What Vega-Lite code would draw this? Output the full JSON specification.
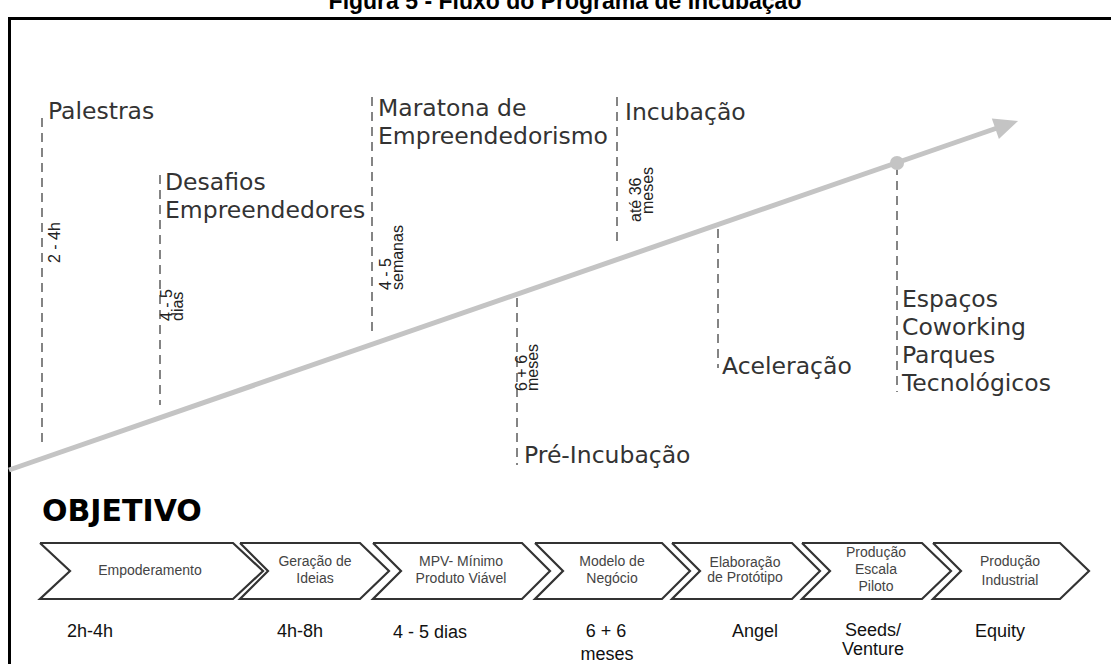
{
  "$schema": "https://vega.github.io/schema/vega-lite/v6.json",
  "width": 1111,
  "height": 664,
  "autosize": {"type": "none"},
  "padding": 0,
  "background": "white",
  "config": {"view": {"stroke": null}},
  "datasets": {
    "frame": [
      {"x": 9.5, "y": 17, "x2": 9.5, "y2": 664},
      {"x": 8, "y": 18.5, "x2": 1111, "y2": 18.5}
    ],
    "trend": [{"x": 9, "y": 470, "x2": 1000, "y2": 127}],
    "head": [{"x": 1006.7, "y": 124.9}],
    "dot": [{"x": 897, "y": 163}],
    "stems": [
      {"x": 42, "y": 118, "y2": 448},
      {"x": 160, "y": 175, "y2": 405},
      {"x": 372, "y": 97, "y2": 337},
      {"x": 617, "y": 97, "y2": 247},
      {"x": 517, "y": 298, "y2": 465},
      {"x": 718, "y": 229, "y2": 368},
      {"x": 897, "y": 166, "y2": 392}
    ],
    "labels": [
      {"x": 48, "y": 119, "t": "Palestras"},
      {"x": 165, "y": 190, "t": "Desafios"},
      {"x": 165, "y": 218, "t": "Empreendedores"},
      {"x": 378, "y": 116, "t": "Maratona de"},
      {"x": 378, "y": 144, "t": "Empreendedorismo"},
      {"x": 625, "y": 120, "t": "Incubação"},
      {"x": 524, "y": 463, "t": "Pré-Incubação"},
      {"x": 722, "y": 374, "t": "Aceleração"},
      {"x": 902, "y": 307, "t": "Espaços"},
      {"x": 902, "y": 335, "t": "Coworking"},
      {"x": 902, "y": 363, "t": "Parques"},
      {"x": 902, "y": 391, "t": "Tecnológicos"}
    ],
    "durations": [
      {"x": 55, "y": 263, "t": "2 - 4h"},
      {"x": 167, "y": 321, "t": "4 - 5"},
      {"x": 178, "y": 321, "t": "dias"},
      {"x": 386, "y": 290, "t": "4 - 5"},
      {"x": 398, "y": 290, "t": "semanas"},
      {"x": 636, "y": 222, "t": "até 36"},
      {"x": 648, "y": 214, "t": "meses"},
      {"x": 522, "y": 391, "t": "6 + 6"},
      {"x": 533, "y": 391, "t": "meses"}
    ],
    "title": [{"x": 565, "y": 9, "t": "Figura 5 - Fluxo do Programa de Incubação"}],
    "heading": [{"x": 42, "y": 521, "t": "OBJETIVO"}],
    "chevrons": [
      {"c": 1, "o": 1, "x": 40, "y": 543}, {"c": 1, "o": 2, "x": 233, "y": 543}, {"c": 1, "o": 3, "x": 263, "y": 571}, {"c": 1, "o": 4, "x": 233, "y": 599}, {"c": 1, "o": 5, "x": 40, "y": 599}, {"c": 1, "o": 6, "x": 70, "y": 571}, {"c": 1, "o": 7, "x": 40, "y": 543},
      {"c": 2, "o": 1, "x": 240, "y": 543}, {"c": 2, "o": 2, "x": 360, "y": 543}, {"c": 2, "o": 3, "x": 389, "y": 571}, {"c": 2, "o": 4, "x": 360, "y": 599}, {"c": 2, "o": 5, "x": 240, "y": 599}, {"c": 2, "o": 6, "x": 268, "y": 571}, {"c": 2, "o": 7, "x": 240, "y": 543},
      {"c": 3, "o": 1, "x": 373, "y": 543}, {"c": 3, "o": 2, "x": 522, "y": 543}, {"c": 3, "o": 3, "x": 550, "y": 571}, {"c": 3, "o": 4, "x": 522, "y": 599}, {"c": 3, "o": 5, "x": 373, "y": 599}, {"c": 3, "o": 6, "x": 401, "y": 571}, {"c": 3, "o": 7, "x": 373, "y": 543},
      {"c": 4, "o": 1, "x": 535, "y": 543}, {"c": 4, "o": 2, "x": 662, "y": 543}, {"c": 4, "o": 3, "x": 690, "y": 571}, {"c": 4, "o": 4, "x": 662, "y": 599}, {"c": 4, "o": 5, "x": 535, "y": 599}, {"c": 4, "o": 6, "x": 563, "y": 571}, {"c": 4, "o": 7, "x": 535, "y": 543},
      {"c": 5, "o": 1, "x": 672, "y": 543}, {"c": 5, "o": 2, "x": 792, "y": 543}, {"c": 5, "o": 3, "x": 820, "y": 571}, {"c": 5, "o": 4, "x": 792, "y": 599}, {"c": 5, "o": 5, "x": 672, "y": 599}, {"c": 5, "o": 6, "x": 700, "y": 571}, {"c": 5, "o": 7, "x": 672, "y": 543},
      {"c": 6, "o": 1, "x": 802, "y": 543}, {"c": 6, "o": 2, "x": 922, "y": 543}, {"c": 6, "o": 3, "x": 951, "y": 571}, {"c": 6, "o": 4, "x": 922, "y": 599}, {"c": 6, "o": 5, "x": 802, "y": 599}, {"c": 6, "o": 6, "x": 830, "y": 571}, {"c": 6, "o": 7, "x": 802, "y": 543},
      {"c": 7, "o": 1, "x": 933, "y": 543}, {"c": 7, "o": 2, "x": 1060, "y": 543}, {"c": 7, "o": 3, "x": 1089, "y": 571}, {"c": 7, "o": 4, "x": 1060, "y": 599}, {"c": 7, "o": 5, "x": 933, "y": 599}, {"c": 7, "o": 6, "x": 961, "y": 571}, {"c": 7, "o": 7, "x": 933, "y": 543}
    ],
    "chevtext": [
      {"x": 150, "y": 571, "t": "Empoderamento"},
      {"x": 315, "y": 562, "t": "Geração de"},
      {"x": 315, "y": 579, "t": "Ideias"},
      {"x": 461, "y": 562, "t": "MPV- Mínimo"},
      {"x": 461, "y": 579, "t": "Produto Viável"},
      {"x": 612, "y": 562, "t": "Modelo de"},
      {"x": 612, "y": 579, "t": "Negócio"},
      {"x": 745, "y": 563, "t": "Elaboração"},
      {"x": 745, "y": 578, "t": "de Protótipo"},
      {"x": 876, "y": 553, "t": "Produção"},
      {"x": 876, "y": 570, "t": "Escala"},
      {"x": 876, "y": 587, "t": "Piloto"},
      {"x": 1010, "y": 562, "t": "Produção"},
      {"x": 1010, "y": 581, "t": "Industrial"}
    ],
    "amounts": [
      {"x": 90, "y": 632, "t": "2h-4h"},
      {"x": 300, "y": 632, "t": "4h-8h"},
      {"x": 430, "y": 633, "t": "4 - 5 dias"},
      {"x": 606, "y": 632, "t": "6 + 6"},
      {"x": 607, "y": 655, "t": "meses"},
      {"x": 755, "y": 632, "t": "Angel"},
      {"x": 873, "y": 631, "t": "Seeds/"},
      {"x": 873, "y": 650, "t": "Venture"},
      {"x": 1000, "y": 632, "t": "Equity"}
    ]
  },
  "encoding": {
    "x": {"field": "x", "type": "quantitative", "scale": {"domain": [0, 1111], "nice": false, "zero": false}, "axis": null},
    "y": {"field": "y", "type": "quantitative", "scale": {"domain": [0, 664], "nice": false, "zero": false, "reverse": true}, "axis": null}
  },
  "layer": [
    {
      "data": {"name": "title"},
      "mark": {"type": "text", "align": "center", "baseline": "alphabetic", "font": "Liberation Sans", "fontWeight": "bold", "fontSize": 23, "color": "#000"},
      "encoding": {"text": {"field": "t"}}
    },
    {
      "data": {"name": "frame"},
      "mark": {"type": "rule", "color": "#000", "strokeWidth": 3},
      "encoding": {"x2": {"field": "x2"}, "y2": {"field": "y2"}}
    },
    {
      "data": {"name": "stems"},
      "mark": {"type": "rule", "color": "#666", "strokeWidth": 1.6, "strokeDash": [9, 6]},
      "encoding": {"y2": {"field": "y2"}}
    },
    {
      "data": {"name": "trend"},
      "mark": {"type": "rule", "color": "#c4c4c4", "strokeWidth": 5},
      "encoding": {"x2": {"field": "x2"}, "y2": {"field": "y2"}}
    },
    {
      "data": {"name": "head"},
      "mark": {"type": "point", "shape": "M-1,-0.9L1,0L-1,0.9Z", "filled": true, "color": "#c4c4c4", "opacity": 1, "size": 576, "angle": -19.1}
    },
    {
      "data": {"name": "dot"},
      "mark": {"type": "point", "shape": "circle", "filled": true, "color": "#c4c4c4", "opacity": 1, "size": 200}
    },
    {
      "data": {"name": "labels"},
      "mark": {"type": "text", "align": "left", "baseline": "alphabetic", "font": "DejaVu Sans", "fontSize": 23.5, "color": "#333"},
      "encoding": {"text": {"field": "t"}}
    },
    {
      "data": {"name": "durations"},
      "mark": {"type": "text", "align": "left", "baseline": "middle", "angle": -90, "font": "Liberation Sans", "fontSize": 16, "color": "#222"},
      "encoding": {"text": {"field": "t"}}
    },
    {
      "data": {"name": "heading"},
      "mark": {"type": "text", "align": "left", "baseline": "alphabetic", "font": "DejaVu Sans", "fontWeight": "bold", "fontSize": 30, "letterSpacing": 6.5, "color": "#000"},
      "encoding": {"text": {"field": "t"}}
    },
    {
      "data": {"name": "chevrons"},
      "mark": {"type": "line", "color": "#333", "strokeWidth": 2.2, "strokeJoin": "miter"},
      "encoding": {"detail": {"field": "c"}, "order": {"field": "o", "type": "quantitative"}}
    },
    {
      "data": {"name": "chevtext"},
      "mark": {"type": "text", "align": "center", "baseline": "middle", "font": "Liberation Sans", "fontSize": 14, "color": "#444"},
      "encoding": {"text": {"field": "t"}}
    },
    {
      "data": {"name": "amounts"},
      "mark": {"type": "text", "align": "center", "baseline": "middle", "font": "Liberation Sans", "fontSize": 18, "color": "#111"},
      "encoding": {"text": {"field": "t"}}
    }
  ]
}
